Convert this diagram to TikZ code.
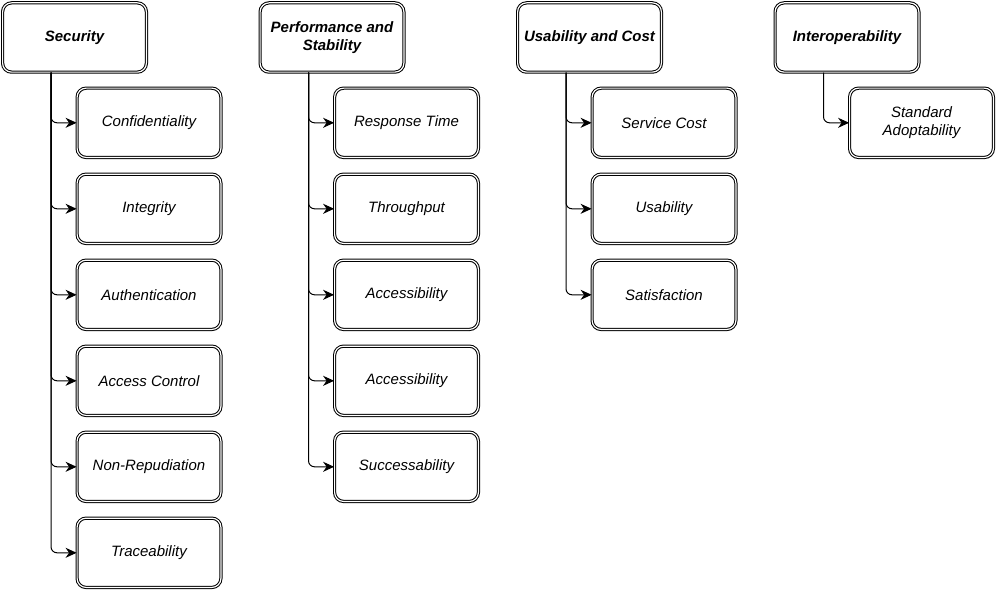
\documentclass[tikz,border=0pt]{standalone}
\usepackage{fontspec}
\setmainfont{Liberation Sans}
\usetikzlibrary{arrows.meta}
\begin{document}
\begin{tikzpicture}[x=1pt,y=-1pt,
  box/.style={draw, double, line width=1pt, double distance=1.2pt, rounded corners=9pt,
    minimum width=143.8pt, minimum height=69.3pt, inner sep=0pt, align=center,
    font=\fontsize{15}{18}\selectfont\itshape},
  parent/.style={box, font=\fontsize{15}{18}\selectfont\bfseries\itshape},
  link/.style={draw, line width=1pt, rounded corners=6pt,
    -{Stealth[length=11pt,width=10pt,inset=3.5pt]}}]
\useasboundingbox (0,0) rectangle (997,594);

% parents
\node[parent] (sec) at (74.5,37.5) {Security};
\node[parent] (perf) at (332,37.5) {Performance and\\Stability};
\node[parent] (usab) at (589.5,37.5) {Usability and Cost};
\node[parent] (inter) at (847,37.5) {Interoperability};

% trunk start points
\path (sec.south) ++(-23.5,0) coordinate (secT);
\path (perf.south) ++(-23.5,0) coordinate (perfT);
\path (usab.south) ++(-23.5,0) coordinate (usabT);
\path (inter.south) ++(-23.5,0) coordinate (interT);

% security children
\node[box] (s1) at (149,122.8) {Confidentiality};
\node[box] (s2) at (149,208.8) {Integrity};
\node[box] (s3) at (149,294.8) {Authentication};
\node[box] (s4) at (149,380.8) {Access Control};
\node[box] (s5) at (149,466.8) {Non-Repudiation};
\node[box] (s6) at (149,552.8) {Traceability};

% performance children
\node[box] (p1) at (406.5,122.8) {Response Time};
\node[box] (p2) at (406.5,208.8) {Throughput};
\node[box] (p3) at (406.5,294.8) {Accessibility};
\node[box] (p4) at (406.5,380.8) {Accessibility};
\node[box] (p5) at (406.5,466.8) {Successability};

% usability children
\node[box] (u1) at (664,122.8) {Service Cost};
\node[box] (u2) at (664,208.8) {Usability};
\node[box] (u3) at (664,294.8) {Satisfaction};

% interoperability child
\node[box] (i1) at (921.5,122.8) {Standard\\Adoptability};

% connectors
\foreach \c in {s1,s2,s3,s4,s5,s6} \draw[link] (secT) |- (\c.west);
\foreach \c in {p1,p2,p3,p4,p5} \draw[link] (perfT) |- (\c.west);
\foreach \c in {u1,u2,u3} \draw[link] (usabT) |- (\c.west);
\draw[link] (interT) |- (i1.west);
\end{tikzpicture}
\end{document}
